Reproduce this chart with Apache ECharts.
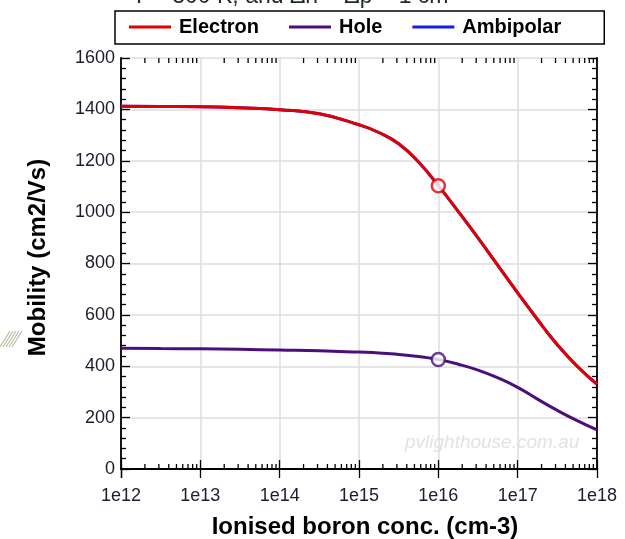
<!DOCTYPE html>
<html><head><meta charset="utf-8">
<script src="https://cdn.jsdelivr.net/npm/echarts@6/dist/echarts.min.js"></script>
<style>html,body{margin:0;padding:0;background:#fff}#c{width:625px;height:539px}</style>
</head><body><div id="c"></div>
<script>
// Concentration exponents (log10 of ionised boron conc., cm-3)
const concExp = [12,12.5,13,13.5,14,14.5,15,15.25,15.5,15.75,16,16.25,16.5,16.75,17,17.25,17.5,17.75,18];
// Mobilities (cm2/Vs)
const electron = [1412,1411,1410,1406,1399,1383,1340,1310,1266,1195,1103,1003,900,793,686,582,484,400,330];
const hole     = [470,469,468,466,463,460,455,452,446,438,426,408,385,355,318,272,228,188,152];
const ambipolar = electron.slice(); // coincides with electron mobility (hidden beneath it)
// Marked operating point
const markerConc = 1e16;
const electronMarker = 1103;
const holeMarker = 426;
const titleText = 'T = 300 K, and \u0394n = \u0394p = 1 cm\u207B\u00B3';

const conc = concExp.map(e => Math.pow(10, e));
const pairs = arr => conc.map((c, i) => [c, arr[i]]);
const minorX = [];
for (let d = 12; d < 18; d++) for (let k = 2; k <= 9; k++) minorX.push([k * Math.pow(10, d), 0]);

const txt = '#1c1c30';
const font = 'Liberation Sans, Arial, sans-serif';
const hatch = [];
for (let i = 0; i < 5; i++) {
  hatch.push({type: 'line', shape: {x1: i * 3, y1: 347, x2: i * 3 + 10, y2: 331},
    style: {stroke: '#b9c2a2', lineWidth: 1.2}});
}
const chart = echarts.init(document.getElementById('c'));
chart.setOption({
  animation: false,
  backgroundColor: '#fff',
  grid: {left: 121, right: 28, top: 58, bottom: 70, containLabel: false, outerBoundsMode: 'none'},
  legend: {
    top: 11, left: 115,
    itemWidth: 42, itemHeight: 3, itemGap: 30,
    padding: [6, 43, 7, 14],
    borderColor: '#000', borderWidth: 1.5,
    textStyle: {fontFamily: font, fontSize: 20, fontWeight: 'bold', color: '#000', padding: [0, 0, 0, 3]},
    icon: 'rect',
    data: ['Electron', 'Hole', 'Ambipolar']
  },
  graphic: [
    {type: 'text', left: 132, top: -15, style: {text: titleText, font: '23px ' + font, fill: '#1e2a2e'}},
    {type: 'text', left: 405, top: 433, style: {text: 'pvlighthouse.com.au', font: 'italic 19px ' + font, fill: '#e2e2e2'}},
    {type: 'group', children: hatch}
  ],
  xAxis: [{
    type: 'log', logBase: 10, min: 1e12, max: 1e18,
    name: 'Ionised boron conc. (cm-3)', nameLocation: 'middle', nameGap: 46,
    nameTextStyle: {fontFamily: font, fontSize: 24, fontWeight: 'bold', color: '#000', padding: [0, 0, 0, 12]},
    axisLine: {lineStyle: {color: '#000', width: 1.8}},
    axisTick: {inside: true, length: 9, lineStyle: {color: '#000', width: 1.3}},
    axisLabel: {fontFamily: font, fontSize: 18, color: txt, margin: 18,
      formatter: v => '1e' + Math.round(Math.log10(v))},
    splitLine: {show: true, lineStyle: {color: '#dcdcdc', width: 1.5}}
  }, {
    type: 'log', logBase: 10, min: 1e12, max: 1e18, position: 'top',
    axisLine: {show: true, lineStyle: {color: '#000', width: 1.8}},
    axisTick: {inside: true, length: 9, lineStyle: {color: '#000', width: 1.3}},
    axisLabel: {show: false}, splitLine: {show: false}
  }],
  yAxis: [{
    type: 'value', min: 0, max: 1600, interval: 200,
    name: 'Mobility (cm2/Vs)', nameLocation: 'middle', nameGap: 71,
    nameTextStyle: {fontFamily: font, fontSize: 24, fontWeight: 'bold', color: '#000', padding: [0, 0, 0, 12]},
    axisLine: {show: true, lineStyle: {color: '#000', width: 1.8}},
    axisTick: {inside: true, length: 9, lineStyle: {color: '#000', width: 1.3}},
    minorTick: {show: true, splitNumber: 5, length: 5, lineStyle: {color: '#000', width: 1.3}},
    axisLabel: {fontFamily: font, fontSize: 18, color: txt, margin: 6, formatter: v => String(v)},
    splitLine: {show: true, lineStyle: {color: '#dcdcdc', width: 1.5}}
  }, {
    type: 'value', min: 0, max: 1600, interval: 200, position: 'right',
    axisLine: {show: true, lineStyle: {color: '#000', width: 1.8}},
    axisTick: {inside: true, length: 9, lineStyle: {color: '#000', width: 1.3}},
    minorTick: {show: true, splitNumber: 5, length: 5, lineStyle: {color: '#000', width: 1.3}},
    axisLabel: {show: false}, splitLine: {show: false}
  }],
  series: [
    {name: 'Ambipolar', type: 'line', data: pairs(ambipolar), smooth: 0.5, showSymbol: false,
      lineStyle: {color: '#1a1aee', width: 3}, itemStyle: {color: '#1a1aee'}, z: 2},
    {name: 'Hole', type: 'line', data: pairs(hole), smooth: 0.5, showSymbol: false,
      lineStyle: {color: '#4b0f7c', width: 3}, itemStyle: {color: '#4b0f7c'}, z: 3},
    {name: 'Electron', type: 'line', data: pairs(electron), smooth: 0.5, showSymbol: false,
      lineStyle: {color: '#e00000', width: 3}, itemStyle: {color: '#e00000'}, z: 4},
    {type: 'scatter', data: [[markerConc, electronMarker]], symbol: 'circle', symbolSize: 13,
      itemStyle: {color: '#fff', borderColor: '#e00000', borderWidth: 2.5}, z: 6},
    {type: 'scatter', data: [[markerConc, holeMarker]], symbol: 'circle', symbolSize: 13,
      itemStyle: {color: '#fff', borderColor: '#4b0f7c', borderWidth: 2.5}, z: 6},
    {type: 'custom', data: minorX, silent: true, z: 5,
      renderItem: (params, api) => {
        const b = api.coord([api.value(0), 0]);
        const t = api.coord([api.value(0), 1600]);
        const st = {stroke: '#000', lineWidth: 1.3};
        return {type: 'group', children: [
          {type: 'line', shape: {x1: b[0], y1: b[1], x2: b[0], y2: b[1] - 5}, style: st},
          {type: 'line', shape: {x1: t[0], y1: t[1], x2: t[0], y2: t[1] + 5}, style: st}
        ]};
      }}
  ]
});
</script></body></html>
